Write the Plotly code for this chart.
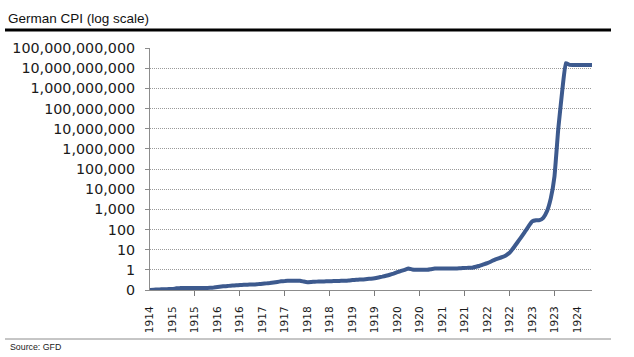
import plotly.graph_objects as go
import pandas as pd

# Monthly German CPI, starting Jul 1914 (log scale)
start_month = "1914-07-01"
cpi_values = [
    0.100, 0.103, 0.106, 0.108, 0.110, 0.111, 0.112, 0.122, 0.126, 0.126,  # m0-9
    0.126, 0.126, 0.126, 0.126, 0.126, 0.127, 0.128, 0.132, 0.140, 0.148,  # m10-19
    0.155, 0.160, 0.165, 0.171, 0.177, 0.180, 0.184, 0.187, 0.190, 0.196,  # m20-29
    0.205, 0.213, 0.222, 0.236, 0.252, 0.270, 0.280, 0.286, 0.290, 0.290,  # m30-39
    0.285, 0.262, 0.245, 0.250, 0.258, 0.262, 0.265, 0.268, 0.272, 0.276,  # m40-49
    0.280, 0.284, 0.288, 0.295, 0.310, 0.320, 0.328, 0.336, 0.350, 0.365,  # m50-59
    0.385, 0.420, 0.460, 0.510, 0.570, 0.650, 0.760, 0.880, 1.000, 1.150,  # m60-69
    1.050, 1.010, 1.000, 1.000, 1.010, 1.080, 1.150, 1.160, 1.160, 1.170,  # m70-79
    1.170, 1.170, 1.180, 1.200, 1.240, 1.260, 1.280, 1.420, 1.600, 1.850,  # m80-89
    2.150, 2.600, 3.150, 3.700, 4.300, 5.200, 7.000, 12.00, 22.00, 40.00,  # m90-99
    75.0, 140.0, 250.0, 285.0, 290.0, 380.0, 800.0, 3500.0, 4.2e4, 1.0e7,  # m100-109
    6.5e8, 1.75e10, 1.45e10, 1.44e10, 1.43e10, 1.43e10, 1.43e10, 1.43e10, 1.42e10,  # m110-118
]
y_tickvals = [1e-1, 1e0, 1e1, 1e2, 1e3, 1e4, 1e5, 1e6, 1e7, 1e8, 1e9, 1e10, 1e11]
title_text = "German CPI (log scale)"
source_text = "Source: GFD"

dates = pd.date_range(start_month, periods=len(cpi_values), freq="MS")

fig = go.Figure()
fig.add_trace(go.Scatter(
    x=dates, y=cpi_values, mode="lines",
    line=dict(color="#3D5A8E", width=4, shape="spline", smoothing=0.3),
    hoverinfo="x+y", showlegend=False,
))

x_range = [dates[0], dates[-1]]
font_axis = "DejaVu Sans, Verdana, sans-serif"

fig.update_layout(
    width=634, height=357,
    margin=dict(l=150, r=42, t=48, b=67),
    paper_bgcolor="white", plot_bgcolor="white",
    title=dict(text=title_text, x=8/634, xanchor="left", xref="container",
               y=1-18/357, yanchor="middle", yref="container",
               font=dict(family="Liberation Sans, Arial, sans-serif", size=13.5, color="#111111")),
    xaxis=dict(
        type="date", range=x_range,
        tickmode="linear", tick0=start_month, dtick="M6", tickformat="%Y",
        tickangle=-90, ticks="inside", ticklen=0, tickcolor="rgba(0,0,0,0)",
        showgrid=False,
        showline=True, linecolor="#8c8c8c", linewidth=1,
        tickfont=dict(family=font_axis, size=10.6, color="#1a1a1a"),
        ticklabelstandoff=11,
        minor=dict(ticks="outside", tickmode="linear", tick0=start_month, dtick="M12",
                   ticklen=5, tickcolor="#7a7a7a", tickwidth=1, showgrid=False),
    ),
    yaxis=dict(
        type="log", range=[-1, 11],
        tickmode="array", tickvals=y_tickvals, tickformat=",.0f",
        ticks="outside", ticklen=4, tickcolor="#8c8c8c",
        showline=True, linecolor="#8c8c8c", linewidth=1,
        showgrid=True, gridcolor="#9a9a9a", griddash="1px,1px", gridwidth=1,
        tickfont=dict(family=font_axis, size=14.3, color="#1a1a1a"),
        ticklabelstandoff=7,
        zeroline=False,
    ),
)

# thick black rule under the title
fig.add_shape(type="line", xref="paper", yref="paper",
              x0=(5-150)/442, x1=(611-150)/442, y0=(290-30)/242, y1=(290-30)/242,
              line=dict(color="black", width=3))
# thin grey rule above the source note
fig.add_shape(type="line", xref="paper", yref="paper",
              x0=(5-150)/442, x1=(611-150)/442, y0=(290-339)/242, y1=(290-339)/242,
              line=dict(color="#8c8c8c", width=1))
fig.add_annotation(text=source_text, xref="paper", yref="paper",
                   x=(8-150)/442, y=(290-347)/242, xanchor="left", yanchor="middle",
                   showarrow=False,
                   font=dict(family="Liberation Sans, Arial, sans-serif", size=8.8, color="#1a1a1a"))

fig.write_html("out.html", config={"displayModeBar": False},
               post_script="document.body.style.margin='0px';")
